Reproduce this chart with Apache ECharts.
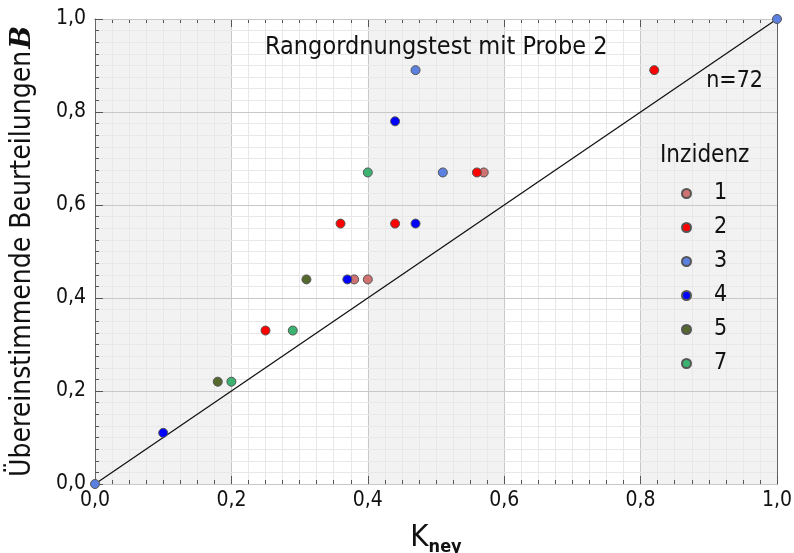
<!DOCTYPE html>
<html>
<head>
<meta charset="utf-8">
<script src="https://cdn.jsdelivr.net/npm/echarts@6/dist/echarts.min.js"></script>
<style>
  html, body { margin: 0; padding: 0; background: #ffffff; }
  #chart { width: 794px; height: 553px; }
</style>
</head>
<body>
<div id="chart"></div>
<script>
// Incidence categories and their (kappa_ney, agreement B) pairs
const categories = ['1', '2', '3', '4', '5', '7'];
const colors = ['#d07272', '#ff0000', '#5b80e0', '#0000ff', '#55692f', '#3cb371'];

const inz1 = [[0.38, 0.44], [0.40, 0.44], [0.57, 0.67]];
const inz2 = [[0.25, 0.33], [0.36, 0.56], [0.44, 0.56], [0.56, 0.67], [0.82, 0.89]];
const inz3 = [[0.00, 0.00], [0.51, 0.67], [0.47, 0.89], [1.00, 1.00]];
const inz4 = [[0.10, 0.11], [0.37, 0.44], [0.47, 0.56], [0.44, 0.78]];
const inz5 = [[0.18, 0.22], [0.31, 0.44]];
const inz7 = [[0.20, 0.22], [0.29, 0.33], [0.40, 0.67]];
const seriesData = [inz1, inz2, inz3, inz4, inz5, inz7];

const diagonal = [[0, 0], [1, 1]];
const tickLabels = ['0,0', '0,2', '0,4', '0,6', '0,8', '1,0'];

const FONT = "'DejaVu Sans Condensed', 'DejaVu Sans'";
const fmt = v => tickLabels[Math.round(v / 0.2)] || '';

const grid = { left: 95, right: 17, top: 19, bottom: 69, containLabel: false, outerBoundsMode: 'none' };

function baseAxis(extra) {
  return Object.assign({
    type: 'value', min: 0, max: 1, interval: 0.2,
    axisLine: { show: true, onZero: false, lineStyle: { color: '#666', width: 1 } },
    axisTick: { show: true, inside: true, length: 8, lineStyle: { color: '#555' } },
    minorTick: { show: true, splitNumber: 8, length: 4, lineStyle: { color: '#555' } },
    axisLabel: { show: false },
    splitLine: { show: false },
    minorSplitLine: { show: false }
  }, extra);
}

const chart = echarts.init(document.getElementById('chart'), null, { renderer: 'canvas' });

const series = categories.map((c, i) => ({
  name: c,
  type: 'scatter',
  xAxisIndex: 0, yAxisIndex: 0,
  data: seriesData[i],
  symbol: 'circle',
  symbolSize: 9,
  itemStyle: { color: colors[i], borderColor: '#555', borderWidth: 1, opacity: 1 },
  z: 5
}));

series.unshift({
  type: 'line',
  data: diagonal,
  xAxisIndex: 0, yAxisIndex: 0,
  showSymbol: false,
  symbol: 'none',
  lineStyle: { color: '#111', width: 1.3 },
  silent: true,
  z: 3
});

chart.setOption({
  animation: false,
  backgroundColor: '#ffffff',
  grid: grid,
  xAxis: [
    baseAxis({
      position: 'bottom',
      z: 0,
      axisLabel: { show: true, formatter: fmt, fontFamily: FONT, fontSize: 21, color: '#111', margin: 6 },
      splitLine: { show: true, lineStyle: { color: '#c8c8c8', width: 1 } },
      minorSplitLine: { show: true, lineStyle: { color: '#e8e8e8', width: 1 } },
      splitArea: { show: true, areaStyle: { color: ['#f2f2f2', '#ffffff'] } },
      name: '{k|Κ}{s|ney}',
      nameLocation: 'middle',
      nameGap: 38,
      nameTextStyle: {
        rich: {
          k: { fontFamily: FONT, fontSize: 31, color: '#111', verticalAlign: 'bottom' },
          s: { fontFamily: FONT, fontSize: 18, fontWeight: 'bold', color: '#111', verticalAlign: 'bottom', padding: [0, 0, -3, 0] }
        }
      }
    }),
    baseAxis({ position: 'top' })
  ],
  yAxis: [
    baseAxis({
      position: 'left',
      z: 1,
      axisLabel: { show: true, formatter: fmt, fontFamily: FONT, fontSize: 21, color: '#111', margin: 9 },
      splitLine: { show: true, lineStyle: { color: '#c8c8c8', width: 1 } },
      minorSplitLine: { show: true, lineStyle: { color: '#e8e8e8', width: 1 } },
      name: '{t|Übereinstimmende Beurteilungen}{b|B}',
      nameLocation: 'middle',
      nameGap: 58,
      nameRotate: 90,
      nameTextStyle: {
        rich: {
          t: { fontFamily: FONT, fontSize: 28, color: '#111' },
          b: { fontFamily: 'DejaVu Serif', fontSize: 27, fontWeight: 'bold', fontStyle: 'italic', color: '#111', padding: [0, 0, 0, 2] }
        }
      }
    }),
    baseAxis({ position: 'right' })
  ],
  legend: {
    data: categories,
    orient: 'vertical',
    left: 681,
    top: 182,
    padding: 0,
    itemWidth: 9,
    itemHeight: 9,
    itemGap: 11,
    icon: 'circle',
    textStyle: { fontFamily: FONT, fontSize: 23, color: '#111', lineHeight: 23, padding: [0, 0, 0, 18] }
  },
  graphic: [
    {
      type: 'text', left: 265, top: 35, z: 10,
      style: { text: 'Rangordnungstest mit Probe 2', fontFamily: FONT, fontSize: 25, fill: '#111' }
    },
    {
      type: 'text', right: 31, top: 70, z: 10,
      style: { text: 'n=72', fontFamily: FONT, fontSize: 23, fill: '#111' }
    },
    {
      type: 'text', left: 660, top: 144, z: 10,
      style: { text: 'Inzidenz', fontFamily: FONT, fontSize: 24, fill: '#111' }
    }
  ],
  series: series
});
</script>
</body>
</html>
